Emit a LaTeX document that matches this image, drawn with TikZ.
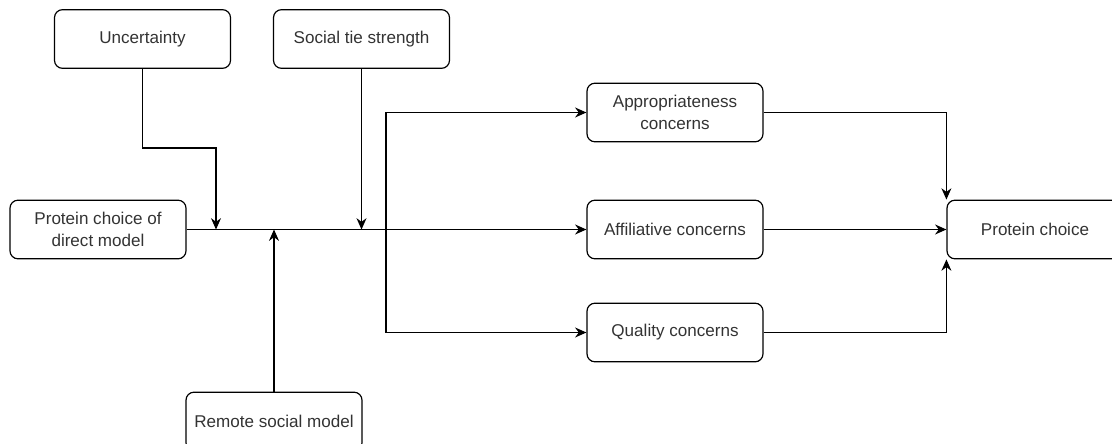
\documentclass[tikz,border=0pt]{standalone}
\usepackage{fontspec}
\setmainfont{Liberation Sans}
\usetikzlibrary{arrows.meta}

\tikzset{
  box/.style={draw, line width=0.9pt, rounded corners=6pt, minimum width=132pt,
    minimum height=44pt, align=center, text=black!80, font=\fontsize{12.8}{16.5}\selectfont},
  arr/.style={draw, line width=0.9pt, -{Stealth[length=8.5pt,width=7.5pt]}}
}

\begin{document}
\begin{tikzpicture}[x=0.75pt,y=-0.75pt]
\clip (0,0) rectangle (1112,443);
\useasboundingbox (0,0) rectangle (1112,443);
\node[box] (unc) at (142.5,39) {Uncertainty};
\node[box] (tie) at (361.5,39) {Social tie strength};
\node[box] (direct) at (98,229.5) {Protein choice of\\direct model};
\node[box] (remote) at (274,421.5) {Remote social model};
\node[box] (approp) at (675,112.5) {Appropriateness\\concerns};
\node[box] (affil) at (675,229.5) {Affiliative concerns};
\node[box] (quality) at (675,332.5) {Quality concerns};
\node[box] (choice) at (1035,229.5) {Protein choice};
\coordinate (j1) at (216,229.5);
\coordinate (j2) at (361.5,229.5);
\coordinate (j3) at (274,229.5);
\coordinate (split) at (386,229.5);
\draw[arr] (unc.south) -- (unc.south |- 0,148) -| (j1);
\draw[arr] (tie.south) -- (j2);
\draw[arr] (remote.north) -- (j3);
\draw[arr] (direct.east) -- (affil.west);
\draw[arr] (split) |- (approp.west);
\draw[arr] (split) |- (quality.west);
\draw[arr] (approp.east) -| (choice.north west);
\draw[arr] (affil.east) -- (choice.west);
\draw[arr] (quality.east) -| (choice.south west);
\end{tikzpicture}
\end{document}
